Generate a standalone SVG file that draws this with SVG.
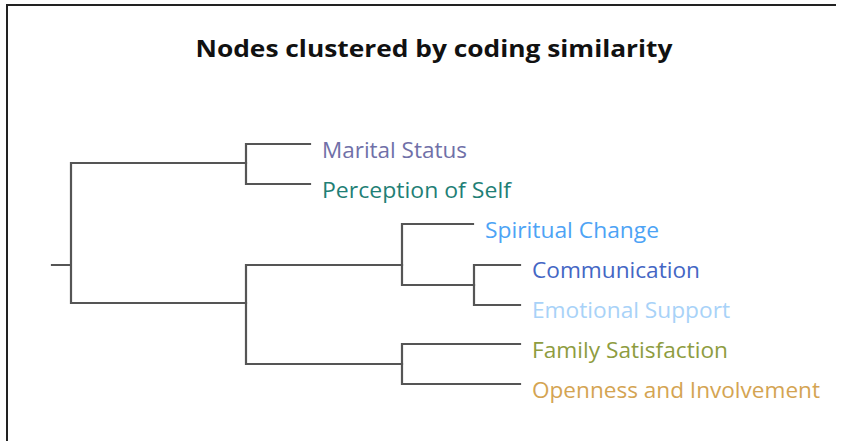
<svg xmlns="http://www.w3.org/2000/svg" width="845" height="441" viewBox="0 0 845 441">
<style>
.frame{fill:none;stroke:#222;stroke-width:2}
.ln{fill:none;stroke:#555;stroke-width:2.2;stroke-linecap:square}
.title{font-family:"Open Sans","Liberation Sans",sans-serif;font-weight:bold;font-size:23px;fill:#111}
.lbl{font-family:"Open Sans","Liberation Sans",sans-serif;font-size:21px}
</style>
<rect width="845" height="441" fill="#fff"/>
<path class="frame" d="M7,441 V5 H836"/>
<text class="title" x="434" y="57" text-anchor="middle" textLength="477" lengthAdjust="spacingAndGlyphs">Nodes clustered by coding similarity</text>
<g id="connectors">
<path class="ln" d="M52,265 H71 M71,163 V303 M71,163 H246 M71,303 H246"/>
<path class="ln" d="M246,144 V184 M246,144 H310 M246,184 H310"/>
<path class="ln" d="M246,265 V364 M246,265 H402 M246,364 H402"/>
<path class="ln" d="M402,224 V285 M402,224 H473 M402,285 H474"/>
<path class="ln" d="M474,265 V305 M474,265 H520 M474,305 H520"/>
<path class="ln" d="M402,344 V384 M402,344 H520 M402,384 H520"/>
</g>
<g id="n-marital"><text class="lbl" x="322" y="158" fill="#7070a8" textLength="145" lengthAdjust="spacingAndGlyphs">Marital Status</text></g>
<g id="n-perception"><text class="lbl" x="322" y="198" fill="#1f7f76" textLength="189" lengthAdjust="spacingAndGlyphs">Perception of Self</text></g>
<g id="n-spiritual"><text class="lbl" x="485" y="238" fill="#4da3f5" textLength="174" lengthAdjust="spacingAndGlyphs">Spiritual Change</text></g>
<g id="n-communication"><text class="lbl" x="532" y="278" fill="#4466c4" textLength="168" lengthAdjust="spacingAndGlyphs">Communication</text></g>
<g id="n-emotional"><text class="lbl" x="532" y="318" fill="#a8d2f8" textLength="198" lengthAdjust="spacingAndGlyphs">Emotional Support</text></g>
<g id="n-family"><text class="lbl" x="532" y="358" fill="#8e9c40" textLength="196" lengthAdjust="spacingAndGlyphs">Family Satisfaction</text></g>
<g id="n-openness"><text class="lbl" x="532" y="398" fill="#d4a452" textLength="288" lengthAdjust="spacingAndGlyphs">Openness and Involvement</text></g>
</svg>
